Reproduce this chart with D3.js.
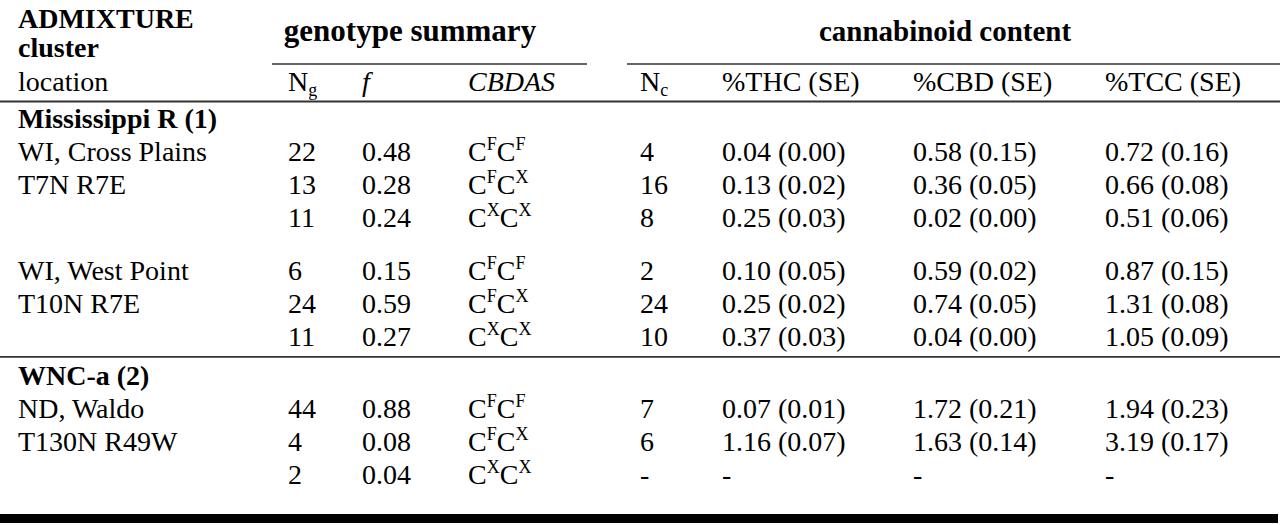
<!DOCTYPE html>
<html><head><meta charset="utf-8">
<script src="https://cdn.jsdelivr.net/npm/d3@7"></script>
<style>html,body{margin:0;padding:0;background:#fff}
svg text{font-family:"Liberation Serif","Times New Roman","DejaVu Serif",serif;}</style>
</head><body><svg id="c"></svg>
<script>
// ---- data ----
const groupNames = ["Mississippi R (1)", "WNC-a (2)"];
const siteNames = ["WI, Cross Plains", "WI, West Point", "ND, Waldo"];
const siteTRS = ["T7N R7E", "T10N R7E", "T130N R49W"];
const siteGroup = [0, 0, 1];
const genotypes = [["F","F"], ["F","X"], ["X","X"]];
const Ng = [[22, 13, 11], [6, 24, 11], [44, 4, 2]];
const freq = [[0.48, 0.28, 0.24], [0.15, 0.59, 0.27], [0.88, 0.08, 0.04]];
const Nc = [[4, 16, 8], [2, 24, 10], [7, 6, null]];
const thc = [[0.04, 0.13, 0.25], [0.10, 0.25, 0.37], [0.07, 1.16, null]];
const thcSE = [[0.00, 0.02, 0.03], [0.05, 0.02, 0.03], [0.01, 0.07, null]];
const cbd = [[0.58, 0.36, 0.02], [0.59, 0.74, 0.04], [1.72, 1.63, null]];
const cbdSE = [[0.15, 0.05, 0.00], [0.02, 0.05, 0.00], [0.21, 0.14, null]];
const tcc = [[0.72, 0.66, 0.51], [0.87, 1.31, 1.05], [1.94, 3.19, null]];
const tccSE = [[0.16, 0.08, 0.06], [0.15, 0.08, 0.09], [0.23, 0.17, null]];
const colKeys = ["loc", "ng", "f", "cbdas", "nc", "thc", "cbd", "tcc"];
const colHeads = ["location", "N", "f", "CBDAS", "N", "%THC (SE)", "%CBD (SE)", "%TCC (SE)"];

// ---- layout ----
const W = 1280, H = 525;
const FONT = "Liberation Serif, Times New Roman, DejaVu Serif, serif";
const FS = 28;
const svg = d3.select("#c").attr("width", W).attr("height", H)
  .style("display", "block").attr("font-family", FONT);
svg.append("rect").attr("width", W).attr("height", H).attr("fill", "#fff");

const x = d3.scaleOrdinal().domain(colKeys).range([18, 288, 362, 468, 640, 722, 913, 1105]);
const y = d3.scaleLinear().domain([0, 1]).range([128, 161]); // body row slots (baselines)
const f2 = d3.format(".2f");

// header
const hdr = svg.append("g").attr("font-size", FS).attr("fill", "#000").attr("font-family", FONT);
hdr.append("text").attr("x", x("loc")).attr("y", 28).attr("font-weight", "bold").text("ADMIXTURE");
hdr.append("text").attr("x", x("loc")).attr("y", 57).attr("font-weight", "bold").text("cluster");
hdr.append("text").attr("x", 410).attr("y", 41).attr("font-weight", "bold")
  .attr("text-anchor", "middle").attr("font-size", 31).text("genotype summary");
hdr.append("text").attr("x", 945).attr("y", 41).attr("font-weight", "bold")
  .attr("text-anchor", "middle").attr("font-size", 29).text("cannabinoid content");

colKeys.forEach((k, i) => {
  const t = hdr.append("text").attr("x", x(k)).attr("y", 91);
  if (k === "ng" || k === "nc") {
    t.append("tspan").text("N");
    t.append("tspan").attr("font-size", 18).attr("dy", 5).text(k === "ng" ? "g" : "c");
  } else {
    t.text(colHeads[i]);
    if (k === "f" || k === "cbdas") t.attr("font-style", "italic");
  }
});

// rules
const rule = (x1, x2, yy, sw) => svg.append("line").attr("x1", x1).attr("x2", x2)
  .attr("y1", yy).attr("y2", yy).attr("stroke", "#333").attr("stroke-width", sw);
rule(272, 587, 64, 1.6);
rule(627, 1280, 64, 1.6);
rule(0, 1280, 101.5, 1.8);

// body slots
let slot = 0;
const body = svg.append("g").attr("font-size", FS).attr("fill", "#000").attr("font-family", FONT);
let prevGroup = -1;
siteNames.forEach((site, s) => {
  const g = siteGroup[s];
  if (g !== prevGroup) {
    if (prevGroup !== -1) {
      rule(0, 1280, y(slot - 1) + 11, 1.8);
      slot += 0.2;
    }
    body.append("text").attr("x", x("loc")).attr("y", y(slot)).attr("font-weight", "bold").text(groupNames[g]);
    slot += 1;
    prevGroup = g;
  } else {
    slot += 0.6;
  }
  genotypes.forEach((gt, r) => {
    const yy = y(slot);
    if (r === 0) body.append("text").attr("x", x("loc")).attr("y", yy).text(site);
    if (r === 1) body.append("text").attr("x", x("loc")).attr("y", yy).text(siteTRS[s]);
    body.append("text").attr("x", x("ng")).attr("y", yy).text(Ng[s][r]);
    body.append("text").attr("x", x("f")).attr("y", yy).text(f2(freq[s][r]));
    const ct = body.append("text").attr("x", x("cbdas")).attr("y", yy);
    gt.forEach((a, j) => {
      ct.append("tspan").attr("y", yy).text("C");
      ct.append("tspan").attr("font-size", 18).attr("y", yy - 11).text(a);
    });
    const cell = (v, se) => v == null ? "-" : `${f2(v)} (${f2(se)})`;
    body.append("text").attr("x", x("nc")).attr("y", yy).text(Nc[s][r] == null ? "-" : Nc[s][r]);
    body.append("text").attr("x", x("thc")).attr("y", yy).text(cell(thc[s][r], thcSE[s][r]));
    body.append("text").attr("x", x("cbd")).attr("y", yy).text(cell(cbd[s][r], cbdSE[s][r]));
    body.append("text").attr("x", x("tcc")).attr("y", yy).text(cell(tcc[s][r], tccSE[s][r]));
    slot += 1;
  });
});

// bottom thick bar
svg.append("rect").attr("x", 0).attr("y", 514).attr("width", 1278).attr("height", 9).attr("fill", "#000");
</script></body></html>
